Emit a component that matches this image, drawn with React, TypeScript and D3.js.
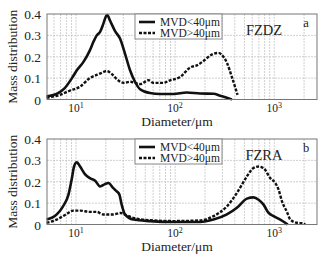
import React from "react";
import * as d3 from "d3";

// Panel a (FZDZ)
const aSmallD = [5.06, 6.6, 7.7, 9.1, 10.2, 11.9, 13.8, 15.0, 16.2, 17.5, 18.9, 20.1, 20.7, 22.0, 24.8, 27.8, 31.2, 35.1, 39.4, 44.3, 55.8, 70.5, 96, 131, 179, 244, 285, 360, 374];
const aSmallV = [0.015, 0.03, 0.053, 0.1, 0.137, 0.176, 0.23, 0.27, 0.3, 0.316, 0.355, 0.39, 0.395, 0.37, 0.32, 0.285, 0.215, 0.137, 0.083, 0.048, 0.03, 0.026, 0.026, 0.033, 0.028, 0.027, 0.018, 0.003, 0];
const aLargeD = [5.06, 6.9, 8.7, 11.0, 13.8, 16.2, 18.2, 20.4, 22.9, 25.8, 30.1, 35.1, 44.3, 53.8, 60.4, 76, 89, 112, 142, 166, 193, 234, 274, 307, 333, 374, 426];
const aLargeV = [0.008, 0.022, 0.042, 0.06, 0.1, 0.115, 0.125, 0.133, 0.12, 0.095, 0.078, 0.083, 0.072, 0.09, 0.078, 0.078, 0.09, 0.105, 0.15, 0.16, 0.18, 0.21, 0.218, 0.2, 0.172, 0.105, 0.022];

// Panel b (FZRA)
const bSmallD = [5.06, 6.4, 7.4, 8.4, 9.1, 9.55, 10.2, 11.0, 12.3, 13.8, 15.6, 17.5, 19.6, 21.2, 23.8, 25.8, 27.4, 28.9, 31.2, 37.9, 55.8, 96, 179, 244, 333, 420, 530, 618, 695, 780, 877, 985, 1150, 1290, 1365];
const bSmallV = [0.023, 0.047, 0.085, 0.14, 0.217, 0.271, 0.291, 0.271, 0.236, 0.217, 0.205, 0.178, 0.189, 0.194, 0.17, 0.155, 0.14, 0.093, 0.047, 0.023, 0.016, 0.012, 0.012, 0.023, 0.047, 0.078, 0.121, 0.127, 0.116, 0.093, 0.054, 0.039, 0.023, 0.008, 0];
const bLargeD = [5.06, 6.4, 8.1, 9.4, 11.0, 13.8, 16.2, 18.9, 23.8, 28.3, 32.5, 37.9, 55.8, 96, 179, 244, 333, 420, 530, 618, 695, 780, 912, 1024, 1106, 1195, 1343, 1452, 1694, 1977, 2046];
const bLargeV = [0.008, 0.023, 0.05, 0.065, 0.065, 0.059, 0.059, 0.047, 0.047, 0.054, 0.043, 0.031, 0.02, 0.016, 0.019, 0.039, 0.085, 0.147, 0.225, 0.264, 0.271, 0.264, 0.217, 0.194, 0.163, 0.109, 0.059, 0.023, 0.008, 0.005, 0];

const yTicks = [0, 0.1, 0.2, 0.3, 0.4];
const xMajor = [10, 100, 1000];
const seriesNames = ["MVD<40μm", "MVD>40μm"];

const W = 323, H = 259;
const left = 47, right = 317;
const xDomain = [5.1, 2700];
const serif = "'Liberation Serif', 'DejaVu Serif', serif";

function Panel({ top, bottom, sD, sV, lD, lV, name, letter }: any) {
  const x = d3.scaleLog().domain(xDomain).range([left, right]);
  const y = d3.scaleLinear().domain([0, 0.4]).range([bottom, top]);
  const line = d3.line<[number, number]>().x(p => x(p[0])).y(p => y(p[1])).curve(d3.curveMonotoneX);
  const sPts = sD.map((d: number, i: number) => [d, sV[i]] as [number, number]);
  const lPts = lD.map((d: number, i: number) => [d, lV[i]] as [number, number]);
  const minors: number[] = [];
  for (let k = 0; k <= 3; k++) {
    for (let m = 1; m <= 9; m++) {
      const v = m * Math.pow(10, k);
      if (v >= xDomain[0] && v <= xDomain[1]) minors.push(v);
    }
  }
  return (
    <g>
      {minors.map((v, i) => (
        <line key={"vg" + i} x1={x(v)} x2={x(v)} y1={top} y2={bottom} stroke="#c4c4c4" strokeWidth={0.8} strokeDasharray="2,1" />
      ))}
      {yTicks.slice(1, 4).map((t, i) => (
        <line key={"hg" + i} x1={left} x2={right} y1={y(t)} y2={y(t)} stroke="#c4c4c4" strokeWidth={0.8} strokeDasharray="2,1" />
      ))}
      <path d={line(lPts) || ""} fill="none" stroke="#111" strokeWidth={2.4} strokeDasharray="3,1.5" />
      <path d={line(sPts) || ""} fill="none" stroke="#111" strokeWidth={2.6} />
      <rect x={left} y={top} width={right - left} height={bottom - top} fill="none" stroke="#777" strokeWidth={1} />
      {yTicks.map((t, i) => (
        <text key={"yt" + i} x={41} y={y(t) + 5} textAnchor="end" fontFamily={serif} fontSize={13.5} fill="#222">{t === 0 ? "0" : String(t)}</text>
      ))}
      {xMajor.map((v, i) => (
        <text key={"xt" + i} x={x(v)} y={bottom + 12.5} textAnchor="middle" fontFamily={serif} fontSize={11.5} fill="#222">
          10<tspan dy={-4} fontSize={8}>{i + 1}</tspan>
        </text>
      ))}
      <text x={177} y={bottom + 26.5} textAnchor="middle" fontFamily={serif} fontSize={13.5} fill="#222">Diameter/μm</text>
      <text transform={`translate(17,${(top + bottom) / 2}) rotate(-90)`} textAnchor="middle" fontFamily={serif} fontSize={13.5} fill="#222">Mass distribution</text>
      <rect x={135} y={top} width={87} height={25} fill="#fff" stroke="#888" strokeWidth={1} />
      <line x1={139} x2={155} y1={top + 8} y2={top + 8} stroke="#111" strokeWidth={2.6} />
      <line x1={139} x2={155} y1={top + 19} y2={top + 19} stroke="#111" strokeWidth={2.4} strokeDasharray="3,1.5" />
      <text x={160} y={top + 11.5} fontFamily={serif} fontSize={11.5} fill="#222">{seriesNames[0]}</text>
      <text x={160} y={top + 22.5} fontFamily={serif} fontSize={11.5} fill="#222">{seriesNames[1]}</text>
      <text x={264} y={top + 21} textAnchor="middle" fontFamily={serif} fontSize={14.5} fill="#222">{name}</text>
      <text x={306} y={top + 13} textAnchor="middle" fontFamily={serif} fontSize={12.5} fill="#222">{letter}</text>
    </g>
  );
}

export default function App() {
  return (
    <svg width={W} height={H} style={{ position: "absolute", left: 0, top: 0, background: "#fff" }}>
      <rect width={W} height={H} fill="#fff" />
      <Panel top={14} bottom={99.5} sD={aSmallD} sV={aSmallV} lD={aLargeD} lV={aLargeV} name="FZDZ" letter="a" />
      <Panel top={139} bottom={224.5} sD={bSmallD} sV={bSmallV} lD={bLargeD} lV={bLargeV} name="FZRA" letter="b" />
    </svg>
  );
}
